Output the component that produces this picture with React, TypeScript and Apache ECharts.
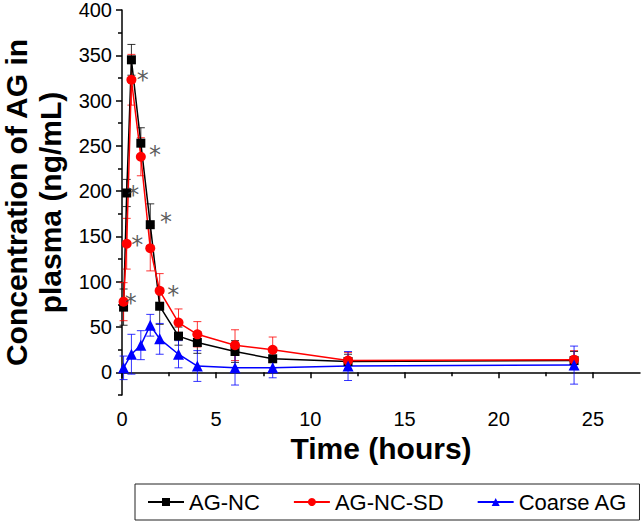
import React, { useEffect, useRef } from "react";
import * as echarts from "echarts";

const times = [0.083, 0.25, 0.5, 1, 1.5, 2, 3, 4, 6, 8, 12, 24];
const agNC = [72, 198, 345, 253, 163, 73, 40, 33, 23, 15, 12, 13];
const agNCErr = [20, 15, 17, 17, 23, 20, 10, 12, 12, 10, 8, 10];
const agNCSD = [78, 142, 323, 238, 137, 90, 55, 42, 30, 25, 13, 14];
const agNCSDErr = [21, 28, 28, 21, 25, 19, 15, 14, 17, 14, 9, 10];
const coarseTimes = [0.083, 0.5, 1, 1.5, 2, 3, 4, 6, 8, 12, 24];
const coarse = [5, 20, 30, 52, 37, 20, 7, 5, 5, 7, 8];
const coarseErr = [13, 22, 16, 12, 17, 15, 17, 19, 11, 16, 21];

const starX = [1.1, 1.75, 0.6, 2.33, 0.81, 2.72, 0.46];
const starY = [330, 248, 204, 174, 148, 93, 84];

const yMajor = [0, 50, 100, 150, 200, 250, 300, 350, 400];
const yMinor = [-25, 25, 75, 125, 175, 225, 275, 325, 375];
const xMajor = [0, 5, 10, 15, 20, 25];
const xMinor = [2.5, 7.5, 12.5, 17.5, 22.5];

const FONT = "Liberation Sans, Arial, sans-serif";

function errData(xs: number[], ys: number[], es: number[]) {
  return xs.map((x, i) => [x, ys[i] - es[i], ys[i] + es[i]]);
}

function errSeries(name: string, data: number[][], color: string) {
  return {
    type: "custom",
    name: name + "-err",
    z: 1,
    silent: true,
    data,
    encode: { x: 0, y: [1, 2] },
    renderItem: (params: any, api: any) => {
      const x = api.value(0);
      const lo = api.coord([x, api.value(1)]);
      const hi = api.coord([x, api.value(2)]);
      const w = 4;
      const style = { stroke: color, lineWidth: 1, opacity: 0.8 };
      return {
        type: "group",
        children: [
          { type: "line", shape: { x1: lo[0], y1: lo[1], x2: hi[0], y2: hi[1] }, style },
          { type: "line", shape: { x1: hi[0] - w, y1: hi[1], x2: hi[0] + w, y2: hi[1] }, style },
          { type: "line", shape: { x1: lo[0] - w, y1: lo[1], x2: lo[0] + w, y2: lo[1] }, style },
        ],
      };
    },
  };
}

export default function App() {
  const ref = useRef<HTMLDivElement>(null);
  useEffect(() => {
    if (!ref.current) return;
    const chart = echarts.init(ref.current, undefined, { renderer: "svg" });
    const axisLine = { show: true, lineStyle: { color: "#000", width: 1.5 } };
    chart.setOption({
      animation: false,
      textStyle: { fontFamily: FONT },
      grid: { left: 122, top: 10, right: 1, bottom: 131, containLabel: false, outerBoundsMode: "none" },
      legend: {
        left: 135,
        top: 484,
        data: ["AG-NC", "AG-NC-SD", "Coarse AG"],
        borderColor: "#222",
        borderWidth: 1,
        padding: [7, 12],
        itemGap: 33,
        itemWidth: 36,
        itemHeight: 10,
        textStyle: { fontSize: 22, color: "#000", fontFamily: FONT },
      },
      xAxis: [
        {
          type: "value",
          min: 0,
          max: 27.5,
          interval: 2.5,
          name: "Time (hours)",
          nameLocation: "middle",
          nameGap: 25,
          nameTextStyle: { fontSize: 30, fontWeight: "bold", color: "#000", fontFamily: FONT },
          axisLine,
          axisTick: { show: true, customValues: xMajor, length: 6, lineStyle: { color: "#000", width: 1.5 } },
          axisLabel: { customValues: xMajor, fontSize: 20, color: "#000", margin: 14, fontFamily: FONT },
          splitLine: { show: false },
        },
        {
          type: "value",
          min: 0,
          max: 27.5,
          position: "bottom",
          axisLine: { show: false },
          axisTick: { show: true, customValues: xMinor, length: 4, lineStyle: { color: "#000", width: 1.5 } },
          axisLabel: { show: false },
          splitLine: { show: false },
        },
      ],
      yAxis: [
        {
          type: "value",
          min: -25,
          max: 400,
          interval: 25,
          name: "Concentration of AG in\nplasma (ng/mL)",
          nameLocation: "middle",
          nameGap: 54,
          nameRotate: 90,
          nameTextStyle: { fontSize: 30, fontWeight: "bold", color: "#000", lineHeight: 34, fontFamily: FONT },
          axisLine,
          axisTick: { show: true, customValues: yMajor, length: 6, lineStyle: { color: "#000", width: 1.5 } },
          axisLabel: { customValues: yMajor, fontSize: 20, color: "#000", margin: 10, fontFamily: FONT },
          splitLine: { show: false },
        },
        {
          type: "value",
          min: -25,
          max: 400,
          position: "left",
          axisLine: { show: false },
          axisTick: { show: true, customValues: yMinor, length: 4, lineStyle: { color: "#000", width: 1.5 } },
          axisLabel: { show: false },
          splitLine: { show: false },
        },
      ],
      series: [
        errSeries("AG-NC", errData(times, agNC, agNCErr), "#000"),
        errSeries("AG-NC-SD", errData(times, agNCSD, agNCSDErr), "#ff0000"),
        errSeries("Coarse AG", errData(coarseTimes, coarse, coarseErr), "#0000ff"),
        {
          type: "line",
          name: "AG-NC",
          z: 3,
          data: times.map((t, i) => [t, agNC[i]]),
          symbol: "rect",
          symbolSize: 9,
          itemStyle: { color: "#000" },
          lineStyle: { color: "#000", width: 1.5 },
        },
        {
          type: "line",
          name: "AG-NC-SD",
          z: 3,
          data: times.map((t, i) => [t, agNCSD[i]]),
          symbol: "circle",
          symbolSize: 10,
          itemStyle: { color: "#ff0000" },
          lineStyle: { color: "#ff0000", width: 1.5 },
        },
        {
          type: "line",
          name: "Coarse AG",
          z: 3,
          data: coarseTimes.map((t, i) => [t, coarse[i]]),
          symbol: "triangle",
          symbolSize: 11,
          itemStyle: { color: "#0000ff" },
          lineStyle: { color: "#0000ff", width: 1.5 },
        },
        {
          type: "scatter",
          name: "stars",
          z: 4,
          silent: true,
          symbol: "circle",
          symbolSize: 1,
          itemStyle: { color: "rgba(0,0,0,0)" },
          data: starX.map((x, i) => [x, starY[i]]),
          label: {
            show: true,
            position: "inside",
            formatter: "*",
            fontSize: 24,
            color: "#333",
            offset: [0, 7],
            fontFamily: "DejaVu Sans, sans-serif",
          },
        },
      ],
    });
    return () => chart.dispose();
  }, []);
  return (
    <div
      ref={ref}
      style={{ position: "absolute", left: 0, top: 0, width: 641, height: 526, background: "#fff" }}
    />
  );
}
